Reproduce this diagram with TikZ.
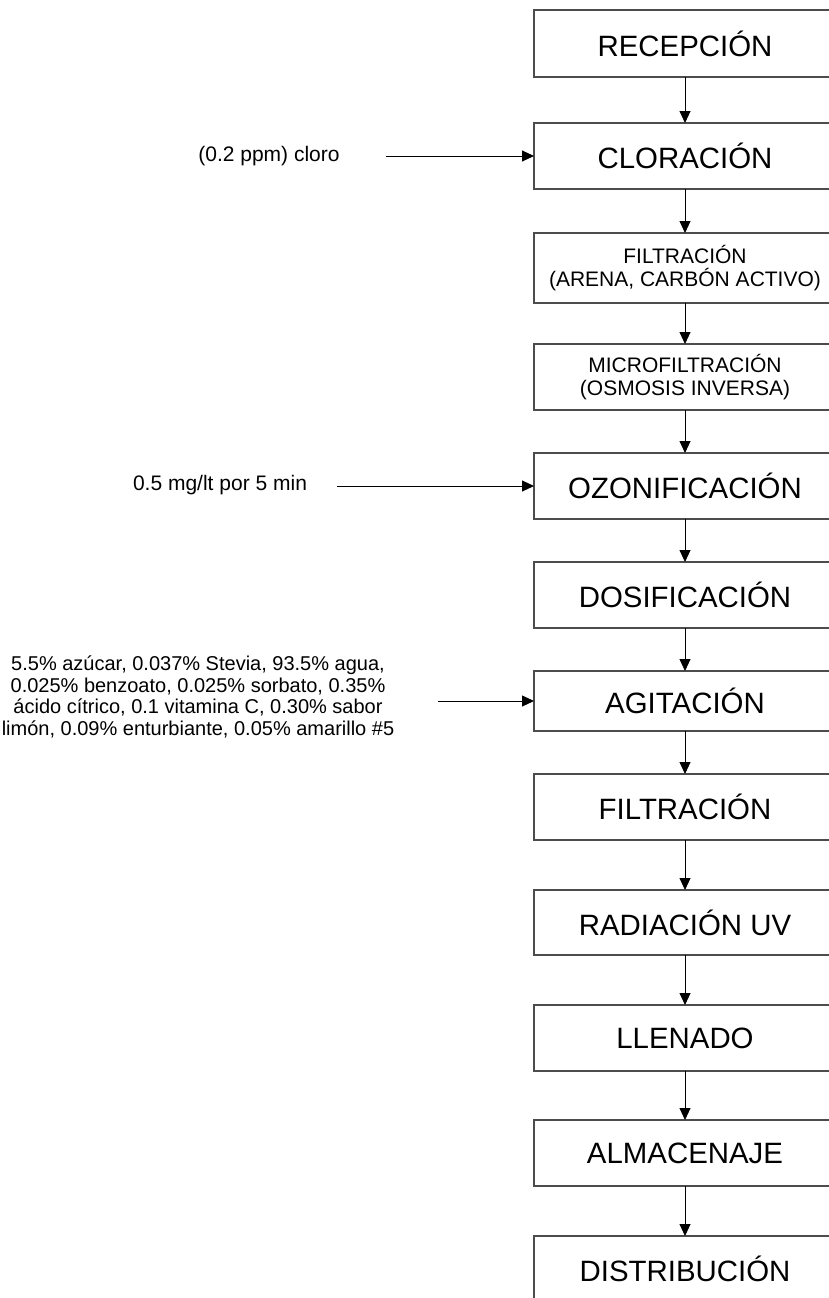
\documentclass[tikz,border=0pt]{standalone}
\usepackage{fontspec}
\setmainfont{Liberation Sans}
\usetikzlibrary{arrows.meta, positioning}

\begin{document}
\begin{tikzpicture}[
  x=1pt, y=-1pt,
  font=\fontsize{29.4}{31}\selectfont,
  proc/.style={rectangle, draw=black!70, line width=1.1pt, minimum width=302pt,
               minimum height=66pt, inner sep=0pt, outer sep=0pt, align=center},
  proctwo/.style={proc, font=\fontsize{21}{23}\selectfont},
  note/.style={inner sep=0pt, align=center, font=\fontsize{21}{21.5}\selectfont},
  arr/.style={-{Triangle[length=12pt, width=11pt]}, line width=0.9pt}
]
  \useasboundingbox (0,0) rectangle (828,1298);

  % ── Main process line ───────────────────────────────────────────────────────
  \node[proc, minimum height=67pt] (rec) at (685,43.5) {RECEPCIÓN};
  \node[proc, below=46pt of rec] (clo) {CLORACIÓN};
  \node[proctwo, minimum height=70pt, below=44pt of clo] (fil1) {FILTRACIÓN\\(ARENA, CARBÓN ACTIVO)};
  \node[proctwo, below=41pt of fil1] (mic) {MICROFILTRACIÓN\\(OSMOSIS INVERSA)};
  \node[proc, below=43pt of mic] (ozo) {OZONIFICACIÓN};
  \node[proc, below=43pt of ozo] (dos) {DOSIFICACIÓN};
  \node[proc, minimum height=60pt, below=43pt of dos] (agi) {AGITACIÓN};
  \node[proc, below=43pt of agi] (fil2) {FILTRACIÓN};
  \node[proc, minimum height=65pt, below=50pt of fil2] (rad) {RADIACIÓN UV};
  \node[proc, below=50pt of rad] (lle) {LLENADO};
  \node[proc, below=49pt of lle] (alm) {ALMACENAJE};
  \node[proc, below=50pt of alm] (dis) {DISTRIBUCIÓN};

  % ── Inputs ──────────────────────────────────────────────────────────────────
  \node[note] (cloro) at (269,156) {(0.2 ppm) cloro};
  \node[note] (ozono) at (220,485) {0.5 mg/lt por 5 min};
  \node[note, font=\fontsize{20}{21.5}\selectfont] (mezcla) at (198,697) {%
    5.5\% azúcar, 0.037\% Stevia, 93.5\% agua,\\
    0.025\% benzoato, 0.025\% sorbato, 0.35\%\\
    ácido cítrico, 0.1 vitamina C, 0.30\% sabor\\
    limón, 0.09\% enturbiante, 0.05\% amarillo \#5};

  \coordinate[left=148pt of clo.west] (in1);
  \coordinate[left=197pt of ozo.west] (in2);
  \coordinate[left=96pt of agi.west] (in3);

  % ── Arrows ──────────────────────────────────────────────────────────────────
  \draw[arr] (rec) -- (clo);
  \draw[arr] (clo) -- (fil1);
  \draw[arr] (fil1) -- (mic);
  \draw[arr] (mic) -- (ozo);
  \draw[arr] (ozo) -- (dos);
  \draw[arr] (dos) -- (agi);
  \draw[arr] (agi) -- (fil2);
  \draw[arr] (fil2) -- (rad);
  \draw[arr] (rad) -- (lle);
  \draw[arr] (lle) -- (alm);
  \draw[arr] (alm) -- (dis);
  \draw[arr] (in1) -- (clo);
  \draw[arr] (in2) -- (ozo);
  \draw[arr] (in3) -- (agi);
\end{tikzpicture}
\end{document}
